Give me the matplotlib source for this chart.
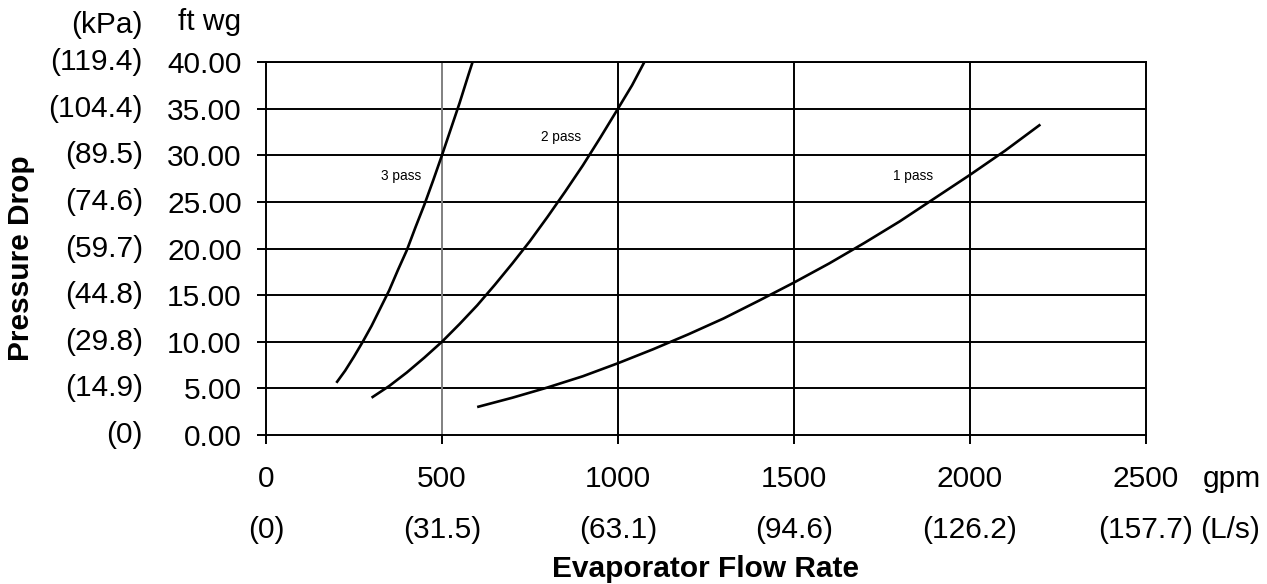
import matplotlib
matplotlib.use("Agg")
import matplotlib.pyplot as plt

plt.rcParams['font.family'] = ['Liberation Sans', 'DejaVu Sans']

# evaporator pressure drop curves (gpm vs ft wg)
flow_3pass = [200, 225, 250, 275, 300, 325, 350, 375, 400, 425, 450, 475, 500, 525, 550, 575, 587]
dp_3pass = [5.6, 6.9, 8.4, 10.0, 11.7, 13.6, 15.5, 17.7, 19.8, 22.3, 24.7, 27.3, 30.0, 32.8, 35.6, 38.6, 40.0]

flow_2pass = [300, 350, 400, 450, 500, 550, 600, 650, 700, 750, 800, 850, 900, 950, 1000, 1040, 1075]
dp_2pass = [4.0, 5.25, 6.7, 8.3, 10.0, 11.9, 13.9, 16.1, 18.4, 20.8, 23.4, 26.1, 28.9, 31.9, 35.0, 37.5, 40.0]

flow_1pass = [600, 700, 800, 900, 1000, 1100, 1200, 1300, 1400, 1500, 1600, 1700, 1800, 1900, 2000, 2100, 2200]
dp_1pass = [3.0, 4.0, 5.1, 6.3, 7.7, 9.2, 10.8, 12.5, 14.4, 16.35, 18.4, 20.6, 22.9, 25.4, 27.9, 30.5, 33.3]

# axis ticks and the metric equivalents
x_ticks = [0, 500, 1000, 1500, 2000, 2500]
x_metric = ['(0)', '(31.5)', '(63.1)', '(94.6)', '(126.2)', '(157.7)']
y_ticks = [0, 5, 10, 15, 20, 25, 30, 35, 40]
y_metric = ['(0)', '(14.9)', '(29.8)', '(44.8)', '(59.7)', '(74.6)', '(89.5)', '(104.4)', '(119.4)']

pass_labels = ['3 pass', '2 pass', '1 pass']
label_pos = [(383, 27.8), (837, 32.0), (1838, 27.8)]

FS = 21.5

fig = plt.figure(figsize=(12.67, 5.84), dpi=100)
ax = fig.add_axes([0.2099, 0.2551, 0.6946, 0.6387])

ax.set_xlim(0, 2500)
ax.set_ylim(0, 40)

# grid
for v in y_ticks[1:]:
    ax.axhline(v, color='black', lw=1.4, zorder=1)
for v in x_ticks[1:-1]:
    ax.axvline(v, color='#808080' if v == 500 else 'black', lw=1.4, zorder=1)

for s in ['left', 'bottom', 'right', 'top']:
    ax.spines[s].set_linewidth(1.4)

# curves
for fl, dp in [(flow_3pass, dp_3pass), (flow_2pass, dp_2pass), (flow_1pass, dp_1pass)]:
    ax.plot(fl, dp, color='black', lw=1.9, zorder=3, solid_capstyle='butt')

for txt, (xx, yy) in zip(pass_labels, label_pos):
    ax.text(xx, yy, txt, fontsize=9.8, ha='center', va='center', zorder=4)

ax.set_xticks(x_ticks)
ax.set_xticklabels([str(v) for v in x_ticks], fontsize=FS)
ax.set_yticks(y_ticks)
ax.set_yticklabels(['%.2f' % v for v in y_ticks], fontsize=FS)
ax.tick_params(axis='both', direction='out', length=6.5, width=1.4, color='black')
ax.tick_params(axis='y', pad=11)
ax.tick_params(axis='x', pad=15)
ax.xaxis.get_major_ticks()[1].tick1line.set_color('#808080')

# metric labels
for v, lab in zip(y_ticks, y_metric):
    ax.annotate(lab, xy=(0, v), xycoords=('axes fraction', 'data'),
                xytext=(-123, 0), textcoords='offset pixels',
                ha='right', va='center', fontsize=FS)
for v, lab in zip(x_ticks, x_metric):
    ax.annotate(lab, xy=(v, 0), xycoords=('data', 'axes fraction'),
                xytext=(0, -95), textcoords='offset pixels',
                ha='center', va='center', fontsize=FS)

# unit headers
ax.annotate('(kPa)', xy=(0, 1), xycoords='axes fraction', xytext=(-123, 37),
            textcoords='offset pixels', ha='right', va='center', fontsize=FS)
ax.annotate('ft wg', xy=(0, 1), xycoords='axes fraction', xytext=(-25, 40),
            textcoords='offset pixels', ha='right', va='center', fontsize=FS)
ax.annotate('gpm', xy=(1, 0), xycoords='axes fraction', xytext=(57, -44),
            textcoords='offset pixels', ha='left', va='center', fontsize=FS)
ax.annotate('(L/s)', xy=(1, 0), xycoords='axes fraction', xytext=(54, -95),
            textcoords='offset pixels', ha='left', va='center', fontsize=FS)

fig.text(706 / 1267, 1 - 569 / 584, 'Evaporator Flow Rate', fontsize=FS,
         fontweight='bold', ha='center', va='center')
fig.text(21 / 1267, 1 - 258 / 584, 'Pressure Drop', fontsize=FS,
         fontweight='bold', ha='center', va='center', rotation=90)

fig.savefig('out.png', dpi=100)
